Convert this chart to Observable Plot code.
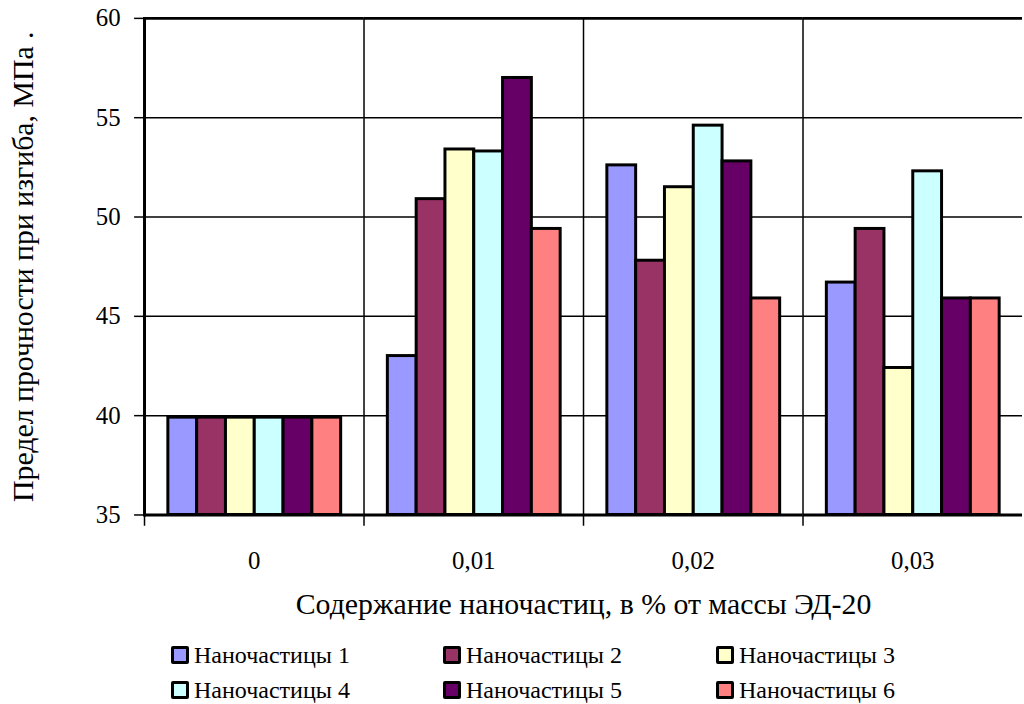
<!DOCTYPE html>
<html>
<head>
<meta charset="utf-8">
<script src="https://cdn.jsdelivr.net/npm/d3@7"></script>
<script src="https://cdn.jsdelivr.net/npm/@observablehq/plot@0.6"></script>
<style>
  html, body { margin: 0; padding: 0; background: #fff; overflow: hidden; }
  #page { position: relative; width: 1024px; height: 704px; overflow: hidden;
          font-family: "Liberation Serif", "DejaVu Serif", serif; }
  #chart { position: absolute; left: 0; top: 0; }
  .item { position: absolute; display: flex; align-items: center; font-size: 24px;
          color: #000; white-space: nowrap; line-height: 28px; }
  .sw { width: 12px; height: 12px; border: 3px solid #000; border-radius: 2px; margin-right: 5px; }
</style>
</head>
<body>
<div id="page">
  <div id="chart"></div>
  <div id="legend"></div>
</div>
<script>
// Nanoparticle content, % of ED-20 mass
const groups = ["0", "0,01", "0,02", "0,03"];
const seriesNames = ["Наночастицы 1", "Наночастицы 2", "Наночастицы 3",
                     "Наночастицы 4", "Наночастицы 5", "Наночастицы 6"];
const colors = ["#9999FF", "#993366", "#FFFFCC", "#CCFFFF", "#660066", "#FF8080"];

// Flexural strength, MPa (one value per content group)
const np1 = [39.9, 43.0, 52.6, 46.7];
const np2 = [39.9, 50.9, 47.8, 49.4];
const np3 = [39.9, 53.4, 51.5, 42.4];
const np4 = [39.9, 53.3, 54.6, 52.3];
const np5 = [39.9, 57.0, 52.8, 45.9];
const np6 = [39.9, 49.4, 45.9, 45.9];

const yTicks = [35, 40, 45, 50, 55, 60];
const yTitle = "Предел прочности при изгиба, МПа .";
const xTitle = "Содержание наночастиц, в % от массы ЭД-20";

const seriesValues = [np1, np2, np3, np4, np5, np6];
const data = groups.flatMap((g, i) =>
  seriesNames.map((s, j) => ({group: g, series: s, value: seriesValues[j][i]})));

const chart = Plot.plot({
  width: 1031,
  height: 630,
  marginLeft: 143,
  marginRight: 1,
  marginTop: 18,
  marginBottom: 112,
  style: {
    fontFamily: '"Liberation Serif", "DejaVu Serif", serif',
    color: "#000",
    background: "transparent",
    overflow: "visible"
  },
  fx: {domain: groups, padding: 0},
  x: {domain: seriesNames, paddingInner: 0, paddingOuter: 0.74, axis: null},
  y: {domain: [35, 60]},
  color: {domain: seriesNames, range: colors},
  marks: [
    // horizontal gridlines
    Plot.ruleY(yTicks.slice(1, -1), {stroke: "#000", strokeWidth: 1.5}),
    // category separators, extended below the axis as tick marks
    Plot.frame({anchor: "left", stroke: "#000", strokeWidth: 1.5, insetBottom: -10}),
    Plot.barY(data, {
      fx: "group", x: "series", y1: 35, y2: "value",
      fill: "series", stroke: "#000", strokeWidth: 3
    }),
    // plot-area border
    Plot.ruleY([60], {stroke: "#000", strokeWidth: 3}),
    Plot.ruleY([35], {stroke: "#000", strokeWidth: 3}),
    Plot.frame({anchor: "left", facetAnchor: "left", stroke: "#000", strokeWidth: 3}),
    Plot.axisY({ticks: yTicks, tickSize: 10, tickPadding: 14, fontSize: 25,
                label: null, strokeWidth: 1.5}),
    Plot.axisY({ticks: [], label: yTitle, labelAnchor: "center", labelOffset: 134,
                labelArrow: "none", fontSize: 30}),
    Plot.axisFx({anchor: "bottom", tickSize: 0, tickPadding: 37, fontSize: 25, label: null}),
    Plot.axisFx({anchor: "bottom", ticks: [], label: xTitle, labelAnchor: "center",
                 labelOffset: 100, labelArrow: "none", fontSize: 30})
  ]
});
document.getElementById("chart").append(chart);

// legend: three columns, two rows
const legend = document.getElementById("legend");
const colLeft = [171, 443, 716];
const rowTop = [641, 676];
seriesNames.forEach((name, i) => {
  const item = document.createElement("div");
  item.className = "item";
  item.style.left = colLeft[i % 3] + "px";
  item.style.top = rowTop[Math.floor(i / 3)] + "px";
  const sw = document.createElement("span");
  sw.className = "sw";
  sw.style.background = colors[i];
  item.append(sw, document.createTextNode(name));
  legend.append(item);
});
</script>
</body>
</html>
